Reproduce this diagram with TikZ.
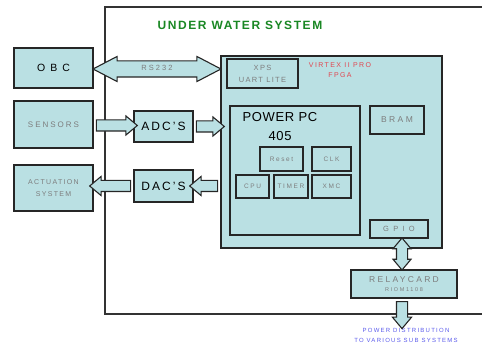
\documentclass[tikz,border=0pt]{standalone}
\usepackage{fontspec}
\setmainfont{Liberation Sans}
\usetikzlibrary{shapes.arrows,calc}
\definecolor{boxblue}{RGB}{186,224,227}
\definecolor{titlegreen}{RGB}{25,135,35}
\definecolor{fpgared}{RGB}{225,70,80}
\definecolor{distblue}{RGB}{90,90,235}
\definecolor{lblgray}{RGB}{125,125,125}
% size, baselineskip, letter spacing
\newcommand{\lsf}[3]{\fontsize{#1}{#2}\selectfont\addfontfeatures{LetterSpace=#3}}

\begin{document}
\begin{tikzpicture}[x=1pt,y=-1pt]
\tikzstyle{blk}=[rectangle,draw=black!85,line width=1.3pt,fill=boxblue,inner sep=0pt,align=center]
\tikzstyle{sub}=[blk,line width=1.1pt,font=\lsf{6.5}{8}{25},text=lblgray]
\tikzstyle{fat}=[single arrow,draw=black!85,line width=1.1pt,fill=boxblue,inner sep=5pt,single arrow head extend=4pt,single arrow tip angle=80]
\tikzstyle{fatboth}=[double arrow,draw=black!85,line width=1.1pt,fill=boxblue,inner sep=5pt,double arrow head extend=3.5pt,double arrow tip angle=80]
\useasboundingbox (0,0) rectangle (482,344);
% under water system frame
\draw[line width=1.3pt,black!80] (482,7) -- (105,7) -- (105,314) -- (482,314);
\node[font=\bfseries\lsf{12}{14}{13},text=titlegreen] (title) at (240,25) {UNDER WATER SYSTEM};

% outside blocks
\node[blk,minimum width=79pt,minimum height=40pt,font=\lsf{10.5}{12}{20}] (obc) at (53.5,68) {O B C};
\node[blk,minimum width=79pt,minimum height=47pt,font=\lsf{8}{9}{25},text=lblgray] (sensors) at (53.5,124.5) {SENSORS};
\node[blk,minimum width=79pt,minimum height=46pt,font=\lsf{7}{12}{19},text=lblgray] (actuation) at (53.5,188) {ACTUATION\\SYSTEM};
\node[blk,minimum width=59pt,minimum height=31pt,font=\lsf{12}{14}{17}] (adc) at (163.5,126.5) {ADC'S};
\node[blk,minimum width=59pt,minimum height=32pt,font=\lsf{12}{14}{17}] (dac) at (163.5,186) {DAC'S};

% fpga and its parts
\node[blk,minimum width=221pt,minimum height=192pt] (fpga) at (331.5,152) {};
\node[sub,minimum width=71pt,minimum height=29pt,font=\lsf{7.5}{12}{17}] (uart) at (262.5,73.5) {XPS\\UART LITE};
\node[font=\lsf{7}{9.5}{20},text=fpgared,align=center] (virtex) at (340,70) {VIRTEX II PRO\\FPGA};
\node[blk,minimum width=130pt,minimum height=129pt] (ppc) at (295,170.5) {};
\node[font=\lsf{13}{19}{5},align=center] (ppclabel) at (280,126.5) {POWER PC\\405};
\node[sub,minimum width=43pt,minimum height=24pt] (reset) at (281.5,159) {Reset};
\node[sub,minimum width=39pt,minimum height=24pt] (clk) at (331.5,159) {CLK};
\node[sub,minimum width=33pt,minimum height=23pt] (cpu) at (252.5,186.5) {CPU};
\node[sub,minimum width=34pt,minimum height=23pt] (timer) at (291,186.5) {TIMER};
\node[sub,minimum width=39pt,minimum height=23pt] (xmc) at (331.5,186.5) {XMC};
\node[sub,minimum width=54pt,minimum height=28pt,font=\lsf{8.5}{10}{28}] (bram) at (397,120) {BRAM};
\node[sub,minimum width=58pt,minimum height=18pt,font=\lsf{7.5}{9}{29}] (gpio) at (399,229) {G P I O};
\node[sub,minimum width=106pt,minimum height=28pt,font=\lsf{8.5}{9.5}{27}] (relay) at (404,284) {RELAYCARD\\{\lsf{5.5}{6}{30}RIOM1108}};
\coordinate (out) at (402,325);
\node[font=\lsf{6}{9.5}{21},text=distblue,align=center] (dist) at (406,335.5) {POWER DISTRIBUTION\\TO VARIOUS SUB SYSTEMS};

% fat connectors
\node[fatboth,minimum height=128pt,minimum width=24pt,inner ysep=5.5pt,double arrow head extend=4.5pt,double arrow tip angle=55,text height=4pt,text depth=0pt,font=\lsf{7.5}{8}{27},text=lblgray] (rs232) at ($(obc.east)!0.5!(obc.east-|fpga.west)+(0,1)$) {RS232};
\node[fat,minimum height=41pt,minimum width=18pt] (a1) at ($(sensors.east|-adc.west)!0.5!(adc.west)+(0,-1)$) {};
\node[fat,minimum height=28pt,minimum width=18pt] (a2) at ($(adc.east)!0.5!(adc.east-|fpga.west)$) {};
\node[fat,minimum height=28pt,minimum width=18pt,shape border rotate=180] (a3) at ($(dac.east)!0.5!(dac.east-|fpga.west)$) {};
\node[fat,minimum height=41pt,minimum width=18pt,shape border rotate=180] (a4) at ($(dac.west)!0.5!(dac.west-|actuation.east)$) {};
\node[fatboth,minimum height=32pt,minimum width=16pt,shape border rotate=90] (a5) at ($(gpio.south-|out)!0.5!(relay.north-|out)$) {};
\node[fat,minimum height=27pt,minimum width=16pt,shape border rotate=270] (a6) at ($(relay.south-|out)!0.5!(out)$) {};
\end{tikzpicture}
\end{document}
